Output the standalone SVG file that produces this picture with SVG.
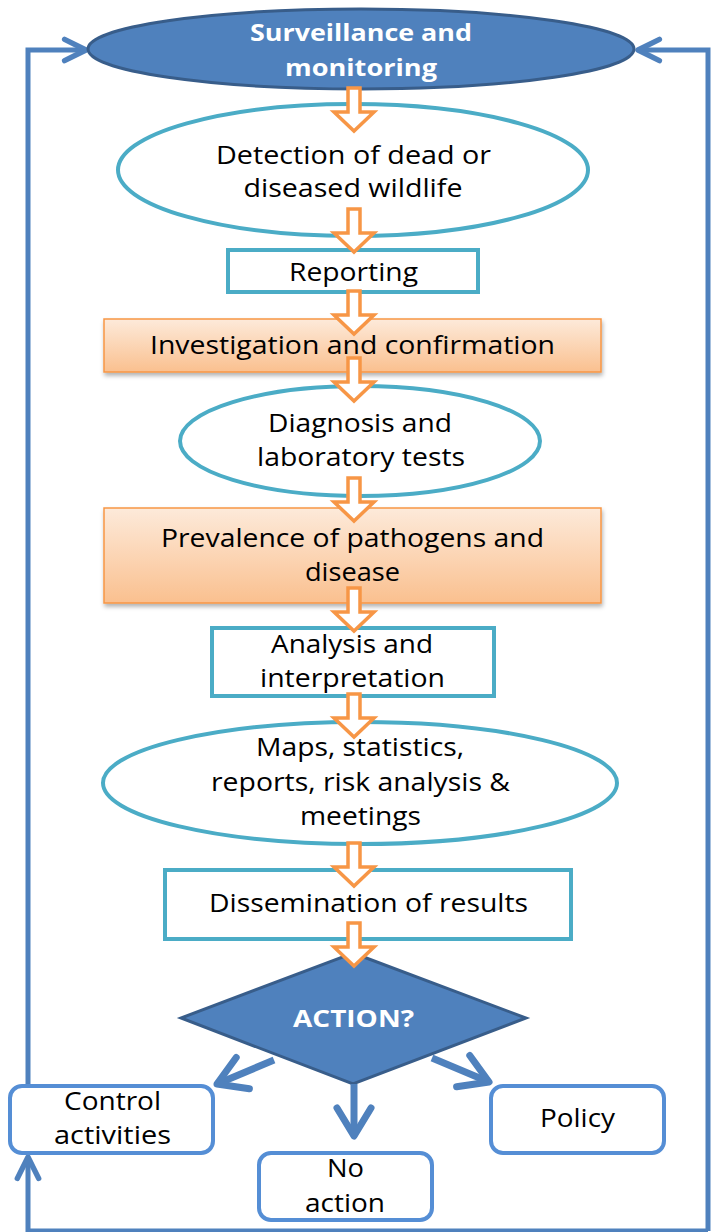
<svg xmlns="http://www.w3.org/2000/svg" width="715" height="1232" viewBox="0 0 715 1232">
<style>
  .t { font-family: "Open Sans", "Liberation Sans", sans-serif; font-size: 25px; fill: #000; text-anchor: middle; }
  .tw { font-family: "Open Sans", "Liberation Sans", sans-serif; font-size: 24px; font-weight: bold; fill: #fff; text-anchor: middle; }
  .blue { fill: #4F81BD; stroke: #385D8A; stroke-width: 3; }
  .cyan { fill: #fff; stroke: #4BACC6; stroke-width: 4; }
  .orange { fill: url(#og); stroke: #F79646; stroke-width: 1.5; filter: url(#sh); }
  .rbox { fill: #fff; stroke: #558ED5; stroke-width: 4; }
  .loop { fill: none; stroke: #4F81BD; stroke-width: 5; }
  .dec { fill: none; stroke: #4F81BD; stroke-width: 7; }
  .ba { fill: #fff; stroke: #F79646; stroke-width: 3.5; stroke-linejoin: miter; }
</style>
<defs>
  <linearGradient id="og" x1="0" y1="0" x2="0" y2="1">
    <stop offset="0" stop-color="#FDEADA"/>
    <stop offset="1" stop-color="#FAC08F"/>
  </linearGradient>
  <filter id="sh" x="-5%" y="-10%" width="110%" height="130%">
    <feDropShadow dx="1" dy="3" stdDeviation="2" flood-color="#000" flood-opacity="0.3"/>
  </filter>
  <marker id="lv" markerUnits="userSpaceOnUse" markerWidth="30" markerHeight="30" viewBox="-24 -14 28 28" refX="0" refY="0" orient="auto">
    <path d="M -20 -10 L 0 0 L -20 10" fill="none" stroke="#4F81BD" stroke-width="5" stroke-linecap="round" stroke-linejoin="round"/>
  </marker>
  <marker id="dv" markerUnits="userSpaceOnUse" markerWidth="44" markerHeight="44" viewBox="-34 -22 40 44" refX="0" refY="0" orient="auto">
    <path d="M -28 -17 L 0 0 L -28 17" fill="none" stroke="#4F81BD" stroke-width="7" stroke-linecap="round" stroke-linejoin="round"/>
  </marker>
  <path id="barrow" d="M -6 0 L 6 0 L 6 24 L 20 24 L 0 43 L -20 24 L -6 24 Z"/>
</defs>

<g id="loop-connectors">
  <path class="loop" d="M 708 1231 L 708 50 L 638 50" marker-end="url(#lv)"/>
  <path class="loop" d="M 708 1231 L 28 1231 L 28 1157" marker-end="url(#lv)"/>
  <path class="loop" d="M 28 1086 L 28 50 L 86 50" marker-end="url(#lv)"/>
</g>

<g id="n-surveillance">
  <ellipse class="blue" cx="361" cy="49" rx="273" ry="40"/>
  <text class="tw" x="361" y="41" textLength="222" lengthAdjust="spacingAndGlyphs">Surveillance and</text>
  <text class="tw" x="361" y="76" textLength="152" lengthAdjust="spacingAndGlyphs">monitoring</text>
</g>

<g id="n-detection">
  <ellipse class="cyan" cx="353" cy="170" rx="235" ry="66"/>
  <text class="t" x="353.5" y="164" textLength="275" lengthAdjust="spacingAndGlyphs">Detection of dead or</text>
  <text class="t" x="353" y="197" textLength="219" lengthAdjust="spacingAndGlyphs">diseased wildlife</text>
</g>

<g id="n-reporting">
  <rect class="cyan" x="228" y="250" width="250" height="42"/>
  <text class="t" x="353.5" y="281" textLength="129" lengthAdjust="spacingAndGlyphs">Reporting</text>
</g>

<g id="n-investigation">
  <rect class="orange" x="104" y="319" width="497" height="53"/>
  <text class="t" x="352.5" y="354" textLength="405" lengthAdjust="spacingAndGlyphs">Investigation and confirmation</text>
</g>

<g id="n-diagnosis">
  <ellipse class="cyan" cx="360" cy="441" rx="180" ry="55"/>
  <text class="t" x="360" y="432" textLength="184" lengthAdjust="spacingAndGlyphs">Diagnosis and</text>
  <text class="t" x="361" y="466" textLength="208" lengthAdjust="spacingAndGlyphs">laboratory tests</text>
</g>

<g id="n-prevalence">
  <rect class="orange" x="104" y="508" width="497" height="95"/>
  <text class="t" x="352.5" y="547" textLength="383" lengthAdjust="spacingAndGlyphs">Prevalence of pathogens and</text>
  <text class="t" x="352.5" y="581" textLength="95" lengthAdjust="spacingAndGlyphs">disease</text>
</g>

<g id="n-analysis">
  <rect class="cyan" x="212" y="628" width="282" height="68"/>
  <text class="t" x="352" y="653" textLength="162" lengthAdjust="spacingAndGlyphs">Analysis and</text>
  <text class="t" x="352.5" y="687" textLength="185" lengthAdjust="spacingAndGlyphs">interpretation</text>
</g>

<g id="n-maps">
  <ellipse class="cyan" cx="360" cy="783" rx="257" ry="61"/>
  <text class="t" x="360" y="756" textLength="208" lengthAdjust="spacingAndGlyphs">Maps, statistics,</text>
  <text class="t" x="360.5" y="791" textLength="299" lengthAdjust="spacingAndGlyphs">reports, risk analysis &amp;</text>
  <text class="t" x="360.5" y="825" textLength="121" lengthAdjust="spacingAndGlyphs">meetings</text>
</g>

<g id="n-dissemination">
  <rect class="cyan" x="165" y="870" width="406" height="69"/>
  <text class="t" x="368.5" y="912" textLength="319" lengthAdjust="spacingAndGlyphs">Dissemination of results</text>
</g>

<g id="n-action">
  <polygon class="blue" points="353,953 526,1018 353,1084 181,1018"/>
  <text class="tw" x="353.5" y="1027" textLength="121" lengthAdjust="spacingAndGlyphs">ACTION?</text>
</g>

<g id="n-control">
  <rect class="rbox" x="10" y="1086" width="203" height="67" rx="12"/>
  <text class="t" x="112.5" y="1110" textLength="97" lengthAdjust="spacingAndGlyphs">Control</text>
  <text class="t" x="112.5" y="1144" textLength="117" lengthAdjust="spacingAndGlyphs">activities</text>
</g>

<g id="n-noaction">
  <rect class="rbox" x="259" y="1153" width="173" height="67" rx="12"/>
  <text class="t" x="345.5" y="1177" textLength="37" lengthAdjust="spacingAndGlyphs">No</text>
  <text class="t" x="345" y="1212" textLength="80" lengthAdjust="spacingAndGlyphs">action</text>
</g>

<g id="n-policy">
  <rect class="rbox" x="491" y="1086" width="173" height="67" rx="12"/>
  <text class="t" x="577.5" y="1127" textLength="75" lengthAdjust="spacingAndGlyphs">Policy</text>
</g>

<g id="connectors">
  <use href="#barrow" class="ba" transform="translate(354,88)"/>
  <use href="#barrow" class="ba" transform="translate(354,209)"/>
  <use href="#barrow" class="ba" transform="translate(354,291)"/>
  <use href="#barrow" class="ba" transform="translate(354,358)"/>
  <use href="#barrow" class="ba" transform="translate(354,478)"/>
  <use href="#barrow" class="ba" transform="translate(354,588)"/>
  <use href="#barrow" class="ba" transform="translate(354,694)"/>
  <use href="#barrow" class="ba" transform="translate(354,843)"/>
  <use href="#barrow" class="ba" transform="translate(354,923)"/>
  <line class="dec" x1="274" y1="1060" x2="217" y2="1084" marker-end="url(#dv)"/>
  <line class="dec" x1="354" y1="1084" x2="354" y2="1136" marker-end="url(#dv)"/>
  <line class="dec" x1="432" y1="1058" x2="489" y2="1082" marker-end="url(#dv)"/>
</g>
</svg>
